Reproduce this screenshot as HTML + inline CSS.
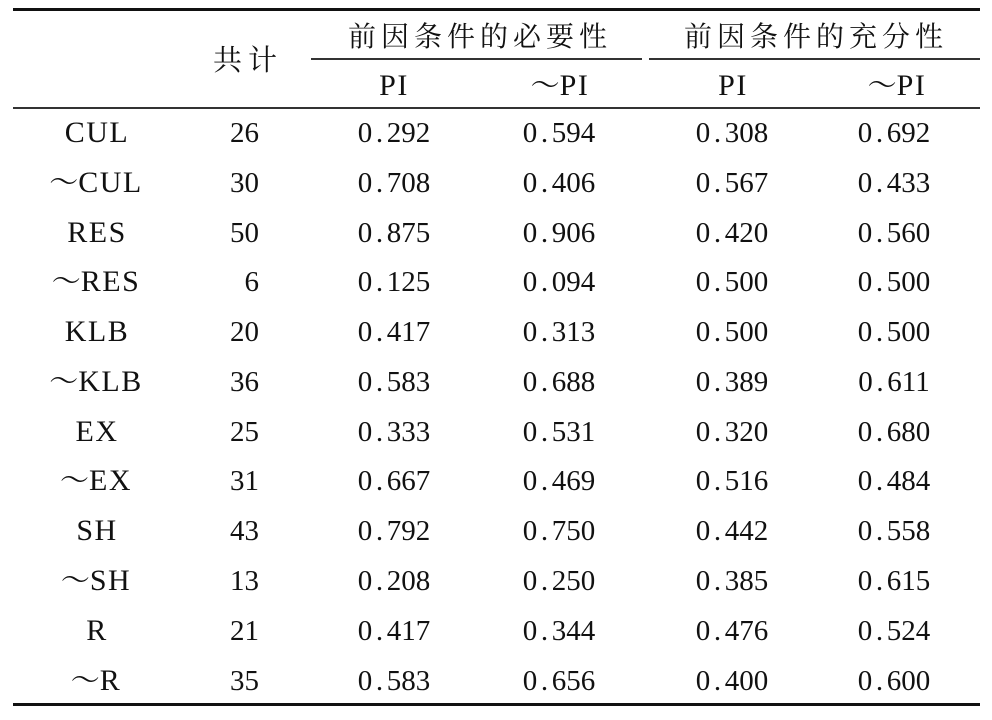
<!DOCTYPE html>
<html>
<head>
<meta charset="utf-8">
<style>
  html, body { margin:0; padding:0; background:#fff; }
  body { width:992px; height:720px; position:relative; overflow:hidden; }
  .r { position:absolute; background:#111; }
  .t { position:absolute; height:40px; line-height:40px; white-space:nowrap; color:#111;
       font-family:"Liberation Serif","Noto Serif CJK SC",serif; font-size:29px; }
  .c { width:200px; text-align:center; }
  .w { width:400px; text-align:center; }
  .cj { font-family:"Noto Serif CJK SC","Noto Sans CJK SC",serif; font-size:28px; letter-spacing:5px; }
  .lab { font-size:30px; letter-spacing:1.5px; }
  .tl { font-family:"Noto Serif CJK SC","Noto Sans CJK SC",serif; font-size:29px; letter-spacing:0; line-height:1px; position:relative; top:0px; }
  .p { display:inline-block; width:14.5px; text-align:center; }
  .cnt { width:100px; text-align:right; }
</style>
</head>
<body>
<!-- rules -->
<div class="r" style="left:13px;top:8px;width:967px;height:3px;"></div>
<div class="r" style="left:311px;top:58px;width:331px;height:2px;background:#333;"></div>
<div class="r" style="left:649px;top:58px;width:331px;height:2px;background:#333;"></div>
<div class="r" style="left:13px;top:107px;width:967px;height:2px;background:#333;"></div>
<div class="r" style="left:13px;top:703px;width:967px;height:3px;"></div>

<!-- header -->
<div class="t c cj" style="left:148px;top:39px;letter-spacing:6px;font-size:29px;">共计</div>
<div class="t w cj" style="left:280px;top:15px;">前因条件的必要性</div>
<div class="t w cj" style="left:616px;top:15px;">前因条件的充分性</div>
<div class="t c lab" style="left:294px;top:66px;">PI</div>
<div class="t c lab" style="left:460px;top:66px;"><span class="tl">～</span>PI</div>
<div class="t c lab" style="left:633px;top:66px;">PI</div>
<div class="t c lab" style="left:797px;top:66px;"><span class="tl">～</span>PI</div>

<!-- rows -->
<div class="t c lab" style="left:-3px;top:113px;">CUL</div>
<div class="t cnt" style="left:159px;top:113px;">26</div>
<div class="t c" style="left:294px;top:113px;">0<span class="p">.</span>292</div>
<div class="t c" style="left:459px;top:113px;">0<span class="p">.</span>594</div>
<div class="t c" style="left:632px;top:113px;">0<span class="p">.</span>308</div>
<div class="t c" style="left:794px;top:113px;">0<span class="p">.</span>692</div>

<div class="t c lab" style="left:-4px;top:163px;"><span class="tl">～</span>CUL</div>
<div class="t cnt" style="left:159px;top:163px;">30</div>
<div class="t c" style="left:294px;top:163px;">0<span class="p">.</span>708</div>
<div class="t c" style="left:459px;top:163px;">0<span class="p">.</span>406</div>
<div class="t c" style="left:632px;top:163px;">0<span class="p">.</span>567</div>
<div class="t c" style="left:794px;top:163px;">0<span class="p">.</span>433</div>

<div class="t c lab" style="left:-3px;top:213px;">RES</div>
<div class="t cnt" style="left:159px;top:213px;">50</div>
<div class="t c" style="left:294px;top:213px;">0<span class="p">.</span>875</div>
<div class="t c" style="left:459px;top:213px;">0<span class="p">.</span>906</div>
<div class="t c" style="left:632px;top:213px;">0<span class="p">.</span>420</div>
<div class="t c" style="left:794px;top:213px;">0<span class="p">.</span>560</div>

<div class="t c lab" style="left:-4px;top:262px;"><span class="tl">～</span>RES</div>
<div class="t cnt" style="left:159px;top:262px;">6</div>
<div class="t c" style="left:294px;top:262px;">0<span class="p">.</span>125</div>
<div class="t c" style="left:459px;top:262px;">0<span class="p">.</span>094</div>
<div class="t c" style="left:632px;top:262px;">0<span class="p">.</span>500</div>
<div class="t c" style="left:794px;top:262px;">0<span class="p">.</span>500</div>

<div class="t c lab" style="left:-3px;top:312px;">KLB</div>
<div class="t cnt" style="left:159px;top:312px;">20</div>
<div class="t c" style="left:294px;top:312px;">0<span class="p">.</span>417</div>
<div class="t c" style="left:459px;top:312px;">0<span class="p">.</span>313</div>
<div class="t c" style="left:632px;top:312px;">0<span class="p">.</span>500</div>
<div class="t c" style="left:794px;top:312px;">0<span class="p">.</span>500</div>

<div class="t c lab" style="left:-4px;top:362px;"><span class="tl">～</span>KLB</div>
<div class="t cnt" style="left:159px;top:362px;">36</div>
<div class="t c" style="left:294px;top:362px;">0<span class="p">.</span>583</div>
<div class="t c" style="left:459px;top:362px;">0<span class="p">.</span>688</div>
<div class="t c" style="left:632px;top:362px;">0<span class="p">.</span>389</div>
<div class="t c" style="left:794px;top:362px;">0<span class="p">.</span>611</div>

<div class="t c lab" style="left:-3px;top:412px;">EX</div>
<div class="t cnt" style="left:159px;top:412px;">25</div>
<div class="t c" style="left:294px;top:412px;">0<span class="p">.</span>333</div>
<div class="t c" style="left:459px;top:412px;">0<span class="p">.</span>531</div>
<div class="t c" style="left:632px;top:412px;">0<span class="p">.</span>320</div>
<div class="t c" style="left:794px;top:412px;">0<span class="p">.</span>680</div>

<div class="t c lab" style="left:-4px;top:461px;"><span class="tl">～</span>EX</div>
<div class="t cnt" style="left:159px;top:461px;">31</div>
<div class="t c" style="left:294px;top:461px;">0<span class="p">.</span>667</div>
<div class="t c" style="left:459px;top:461px;">0<span class="p">.</span>469</div>
<div class="t c" style="left:632px;top:461px;">0<span class="p">.</span>516</div>
<div class="t c" style="left:794px;top:461px;">0<span class="p">.</span>484</div>

<div class="t c lab" style="left:-3px;top:511px;">SH</div>
<div class="t cnt" style="left:159px;top:511px;">43</div>
<div class="t c" style="left:294px;top:511px;">0<span class="p">.</span>792</div>
<div class="t c" style="left:459px;top:511px;">0<span class="p">.</span>750</div>
<div class="t c" style="left:632px;top:511px;">0<span class="p">.</span>442</div>
<div class="t c" style="left:794px;top:511px;">0<span class="p">.</span>558</div>

<div class="t c lab" style="left:-4px;top:561px;"><span class="tl">～</span>SH</div>
<div class="t cnt" style="left:159px;top:561px;">13</div>
<div class="t c" style="left:294px;top:561px;">0<span class="p">.</span>208</div>
<div class="t c" style="left:459px;top:561px;">0<span class="p">.</span>250</div>
<div class="t c" style="left:632px;top:561px;">0<span class="p">.</span>385</div>
<div class="t c" style="left:794px;top:561px;">0<span class="p">.</span>615</div>

<div class="t c lab" style="left:-3px;top:611px;">R</div>
<div class="t cnt" style="left:159px;top:611px;">21</div>
<div class="t c" style="left:294px;top:611px;">0<span class="p">.</span>417</div>
<div class="t c" style="left:459px;top:611px;">0<span class="p">.</span>344</div>
<div class="t c" style="left:632px;top:611px;">0<span class="p">.</span>476</div>
<div class="t c" style="left:794px;top:611px;">0<span class="p">.</span>524</div>

<div class="t c lab" style="left:-4px;top:661px;"><span class="tl">～</span>R</div>
<div class="t cnt" style="left:159px;top:661px;">35</div>
<div class="t c" style="left:294px;top:661px;">0<span class="p">.</span>583</div>
<div class="t c" style="left:459px;top:661px;">0<span class="p">.</span>656</div>
<div class="t c" style="left:632px;top:661px;">0<span class="p">.</span>400</div>
<div class="t c" style="left:794px;top:661px;">0<span class="p">.</span>600</div>
</body>
</html>
